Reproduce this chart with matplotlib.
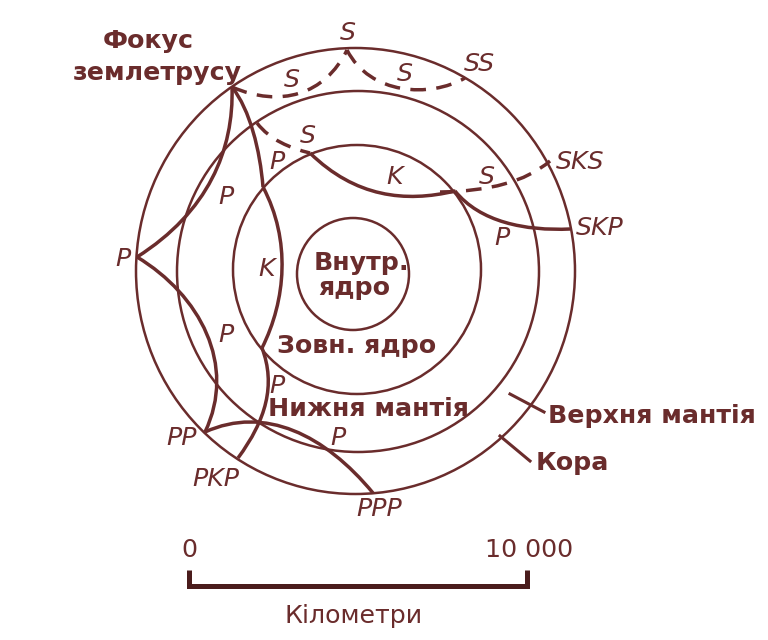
# -*- coding: utf-8 -*-
import matplotlib
matplotlib.use('Agg')
import matplotlib.pyplot as plt
from matplotlib.patches import Ellipse, PathPatch
from matplotlib.path import Path

# shells: centre x, centre y, width, height (picture pixels)
shells = [(355.5, 271, 439, 446), (358, 271.5, 362, 361),
          (357, 269.5, 248, 249), (353, 274, 112, 112)]

# ray segments as cubic bezier control points
solid_thick = [
    [(232, 87), (234, 150), (208, 212), (137, 257)],
    [(137, 257), (200, 295), (237, 365), (205, 432)],
    [(205, 432), (265, 405), (325, 435), (373, 493)],
    [(232, 87), (250, 110), (260, 150), (263, 187)],
    [(263, 187), (291, 240), (286, 300), (262, 348)],
    [(262, 348), (276, 385), (266, 420), (238, 458)],
    [(310, 153), (355, 197), (405, 203), (455, 191)],
    [(455, 191), (480, 222), (525, 231), (570, 229)],
]
dashed_thick = [
    [(232, 87), (280, 108), (325, 95), (347, 50)],
    [(347, 50), (370, 95), (430, 98), (465, 78)],
    [(257, 123), (270, 140), (290, 148), (310, 153)],
    [(440, 192), (490, 191), (525, 182), (550, 161)],
]

# label text, x, y
ray_labels = [('S', 348, 33), ('SS', 479, 64), ('S', 292, 80), ('S', 405, 74),
              ('S', 308, 136), ('P', 277, 162), ('K', 395, 177), ('S', 487, 177),
              ('SKS', 580, 162), ('SKP', 600, 228), ('P', 502, 238), ('P', 226, 197),
              ('K', 267, 269), ('P', 123, 259), ('P', 226, 335), ('P', 277, 386),
              ('P', 338, 438), ('PP', 182, 438), ('PKP', 216, 479), ('PPP', 379, 509)]
bold_labels = [('Фокус', 148, 41), ('землетрусу', 157, 73), ('Внутр.', 361, 263),
               ('ядро', 354, 288), ('Зовн. ядро', 357, 346), ('Нижня мантія', 368, 409),
               ('Верхня мантія', 652, 416), ('Кора', 572, 463)]
leader_lines = [[(510, 394), (544, 412)], [(500, 436), (530, 461)]]
scale_ticks = ['0', '10 000']
scale_title = 'Кілометри'

color = '#6a2c2c'
fs = 18.2
fig = plt.figure(figsize=(7.68, 6.4), dpi=100)
ax = fig.add_axes([0, 0, 1, 1])
ax.set_xlim(0, 768)
ax.set_ylim(640, 0)
ax.axis('off')

for cx, cy, w, h in shells:
    ax.add_patch(Ellipse((cx, cy), w, h, fill=False, ec=color, lw=1.8))

codes = [Path.MOVETO, Path.CURVE4, Path.CURVE4, Path.CURVE4]
for seg in solid_thick:
    ax.add_patch(PathPatch(Path(seg, codes), fill=False, ec=color, lw=2.5, capstyle='butt'))
for seg in dashed_thick:
    ax.add_patch(PathPatch(Path(seg, codes), fill=False, ec=color, lw=2.5,
                           linestyle=(0, (4.5, 3.0)), capstyle='butt'))

for line in leader_lines:
    ax.plot([line[0][0], line[1][0]], [line[0][1], line[1][1]], color=color, lw=2.2)

for txt, x, y in ray_labels:
    ax.text(x, y, txt, color=color, fontsize=fs, style='italic', ha='center', va='center')
for txt, x, y in bold_labels:
    ax.text(x, y, txt, color=color, fontsize=fs, weight='bold', ha='center', va='center')

# scale bar
bar = '#4a1c1c'
ax.plot([189, 189, 527, 527], [570, 585.5, 585.5, 570], color=bar, lw=3.6,
        solid_joinstyle='miter', solid_capstyle='butt')
ax.text(189, 550, scale_ticks[0], color=color, fontsize=fs, ha='center', va='center')
ax.text(529, 550, scale_ticks[1], color=color, fontsize=fs, ha='center', va='center')
ax.text(354, 616, scale_title, color=color, fontsize=fs, ha='center', va='center')

fig.savefig('out.png', dpi=100)
